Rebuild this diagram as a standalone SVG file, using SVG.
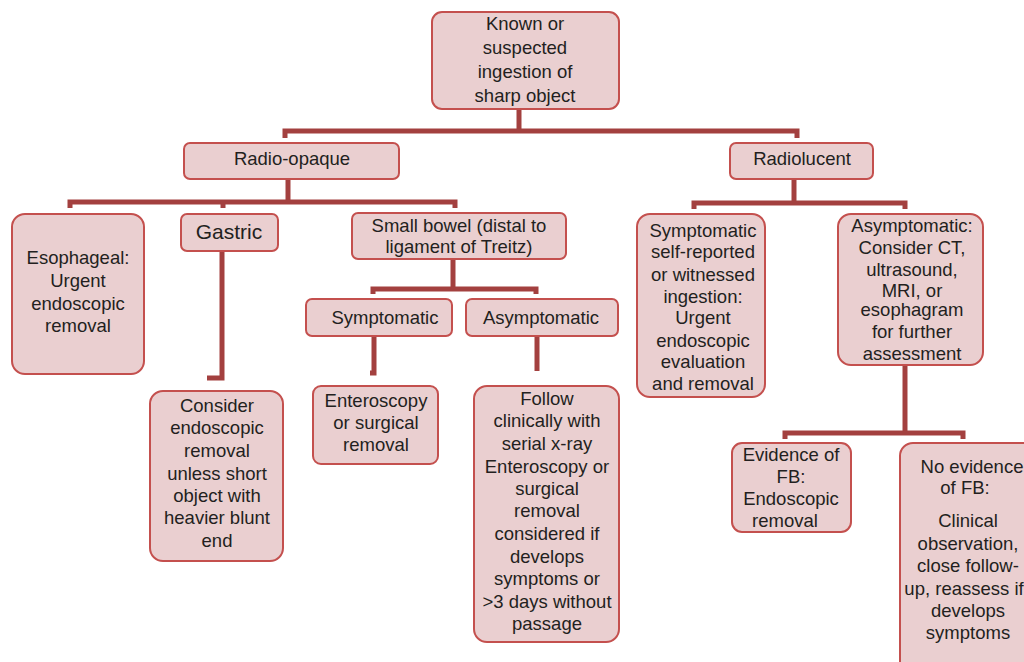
<svg xmlns="http://www.w3.org/2000/svg" width="1024" height="662" viewBox="0 0 1024 662">
<style>
.box{fill:#eacfd0;stroke:#c4504e;stroke-width:2}
.t{font-family:"Liberation Sans",Arial,sans-serif;font-size:18.5px;fill:#231f20;text-anchor:middle}
.big{font-size:21px}
.c{fill:none;stroke:#a3403f;stroke-width:5;stroke-linejoin:miter;stroke-linecap:butt}
</style>
<rect width="1024" height="662" fill="#ffffff"/>
<g id="connectors">
<path class="c" d="M519,109 V131"/>
<path class="c" d="M285,138 V131 H797 V138"/>
<path class="c" d="M288,179 V202"/>
<path class="c" d="M70,208 V202 H455 V208"/>
<path class="c" d="M223,202 V208"/>
<path class="c" d="M222,251 V378 H207"/>
<path class="c" d="M453,259 V289"/>
<path class="c" d="M373,294 V289 H536 V294"/>
<path class="c" d="M374,336 V373 H370"/>
<path class="c" d="M537,336 V371"/>
<path class="c" d="M794,179 V203"/>
<path class="c" d="M694,209 V203 H905 V209"/>
<path class="c" d="M905,365 V433"/>
<path class="c" d="M785,439 V433 H963 V439"/>
</g>
<g id="n_root">
<rect class="box" x="432" y="12" width="187" height="97" rx="10"/>
<text class="t" x="525" y="30">Known or</text>
<text class="t" x="525" y="54">suspected</text>
<text class="t" x="525" y="78">ingestion of</text>
<text class="t" x="525" y="102">sharp object</text>
</g>
<g id="n_radioopaque">
<rect class="box" x="184" y="143" width="215" height="36" rx="6"/>
<text class="t" x="292" y="165">Radio-opaque</text>
</g>
<g id="n_radiolucent">
<rect class="box" x="730" y="143" width="143" height="36" rx="6"/>
<text class="t" x="802" y="165">Radiolucent</text>
</g>
<g id="n_esophageal">
<rect class="box" x="12" y="214" width="132" height="160" rx="13"/>
<text class="t" x="78" y="264">Esophageal:</text>
<text class="t" x="78" y="287">Urgent</text>
<text class="t" x="78" y="310">endoscopic</text>
<text class="t" x="78" y="332">removal</text>
</g>
<g id="n_gastric">
<rect class="box" x="181" y="214" width="97" height="37" rx="6"/>
<text class="t big" x="229" y="239">Gastric</text>
</g>
<g id="n_smallbowel">
<rect class="box" x="352" y="213" width="214" height="46" rx="6"/>
<text class="t" x="459" y="232">Small bowel (distal to</text>
<text class="t" x="459" y="253">ligament of Treitz)</text>
</g>
<g id="n_consider">
<rect class="box" x="150" y="391" width="133" height="170" rx="13"/>
<text class="t" x="217" y="412">Consider</text>
<text class="t" x="217" y="434">endoscopic</text>
<text class="t" x="217" y="457">removal</text>
<text class="t" x="217" y="480">unless short</text>
<text class="t" x="217" y="502">object with</text>
<text class="t" x="217" y="524">heavier blunt</text>
<text class="t" x="217" y="547">end</text>
</g>
<g id="n_symptomatic">
<rect class="box" x="306" y="299" width="146" height="37" rx="6"/>
<text class="t" x="385" y="324">Symptomatic</text>
</g>
<g id="n_asymptomatic">
<rect class="box" x="466" y="299" width="152" height="37" rx="6"/>
<text class="t" x="541" y="324">Asymptomatic</text>
</g>
<g id="n_enteroscopy">
<rect class="box" x="313" y="386" width="125" height="78" rx="8"/>
<text class="t" x="376" y="407">Enteroscopy</text>
<text class="t" x="376" y="429">or surgical</text>
<text class="t" x="376" y="451">removal</text>
</g>
<g id="n_follow">
<rect class="box" x="474" y="386" width="145" height="256" rx="13"/>
<text class="t" x="547" y="405">Follow</text>
<text class="t" x="547" y="427">clinically with</text>
<text class="t" x="547" y="450">serial x-ray</text>
<text class="t" x="547" y="473">Enteroscopy or</text>
<text class="t" x="547" y="495">surgical</text>
<text class="t" x="547" y="517">removal</text>
<text class="t" x="547" y="540">considered if</text>
<text class="t" x="547" y="563">develops</text>
<text class="t" x="547" y="585">symptoms or</text>
<text class="t" x="547" y="608">&gt;3 days without</text>
<text class="t" x="547" y="630">passage</text>
</g>
<g id="n_sym_rl">
<rect class="box" x="637" y="214" width="128" height="183" rx="13"/>
<text class="t" x="703" y="237">Symptomatic</text>
<text class="t" x="703" y="258">self-reported</text>
<text class="t" x="703" y="281">or witnessed</text>
<text class="t" x="703" y="303">ingestion:</text>
<text class="t" x="703" y="324">Urgent</text>
<text class="t" x="703" y="347">endoscopic</text>
<text class="t" x="703" y="368">evaluation</text>
<text class="t" x="703" y="390">and removal</text>
</g>
<g id="n_asym_rl">
<rect class="box" x="838" y="214" width="145" height="151" rx="13"/>
<text class="t" x="912" y="232">Asymptomatic:</text>
<text class="t" x="912" y="254">Consider CT,</text>
<text class="t" x="912" y="276">ultrasound,</text>
<text class="t" x="912" y="297">MRI, or</text>
<text class="t" x="912" y="316">esophagram</text>
<text class="t" x="912" y="338">for further</text>
<text class="t" x="912" y="360">assessment</text>
</g>
<g id="n_evidence">
<rect class="box" x="732" y="443" width="119" height="89" rx="10"/>
<text class="t" x="791" y="461">Evidence of</text>
<text class="t" x="791" y="483">FB:</text>
<text class="t" x="791" y="505">Endoscopic</text>
<text class="t" x="785" y="527">removal</text>
</g>
<g id="n_noevidence">
<rect class="box" x="900" y="443" width="140" height="240" rx="13"/>
<text class="t" x="972" y="473">No evidence</text>
<text class="t" x="965" y="494">of FB:</text>
<text class="t" x="968" y="527">Clinical</text>
<text class="t" x="968" y="550">observation,</text>
<text class="t" x="968" y="572">close follow-</text>
<text class="t" x="964" y="595">up, reassess if</text>
<text class="t" x="968" y="617">develops</text>
<text class="t" x="968" y="639">symptoms</text>
</g>
</svg>
